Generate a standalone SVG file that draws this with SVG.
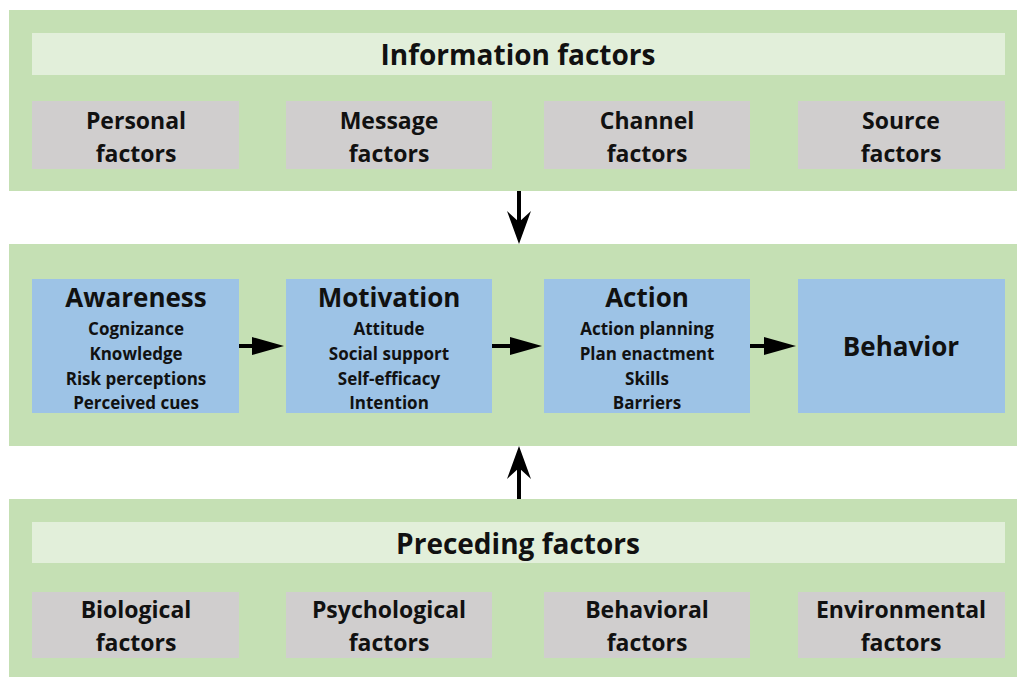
<svg xmlns="http://www.w3.org/2000/svg" width="1017" height="677" viewBox="0 0 1017 677">
<defs>
<style>
.panel{fill:#c5e0b4}
.hdr{fill:#e2efda}
.gray{fill:#d0cece}
.blue{fill:#9dc3e6}
text{font-family:"Open Sans",Lato,"Liberation Sans",sans-serif;font-weight:bold;fill:#111;text-anchor:middle}
.h1{font-size:28px}
.h2{font-size:26px}
.f{font-size:23px}
.s{font-size:17px}
.ln{stroke:#000;stroke-width:4;fill:none}
</style>
</defs>
<rect width="1017" height="677" fill="#fff"/>

<g id="info-panel">
<rect class="panel" x="9" y="10" width="1008" height="181"/>
<rect class="hdr" x="32" y="33" width="973" height="42"/>
<text class="h1" x="518" y="65">Information factors</text>
</g>
<g id="personal"><rect class="gray" x="32" y="101" width="207" height="68"/><text class="f" x="136" y="129">Personal</text><text class="f" x="136" y="162">factors</text></g>
<g id="message"><rect class="gray" x="286" y="101" width="206" height="68"/><text class="f" x="389" y="129">Message</text><text class="f" x="389" y="162">factors</text></g>
<g id="channel"><rect class="gray" x="544" y="101" width="206" height="68"/><text class="f" x="647" y="129">Channel</text><text class="f" x="647" y="162">factors</text></g>
<g id="source"><rect class="gray" x="798" y="101" width="207" height="68"/><text class="f" x="901" y="129">Source</text><text class="f" x="901" y="162">factors</text></g>

<g id="process-panel">
<rect class="panel" x="9" y="244" width="1008" height="202"/>
</g>
<g id="awareness"><rect class="blue" x="32" y="279" width="207" height="134"/>
<text class="h2" x="136" y="307">Awareness</text>
<text class="s" x="136" y="335">Cognizance</text><text class="s" x="136" y="360">Knowledge</text><text class="s" x="136" y="385">Risk perceptions</text><text class="s" x="136" y="409">Perceived cues</text></g>
<g id="motivation"><rect class="blue" x="286" y="279" width="206" height="134"/>
<text class="h2" x="389" y="307">Motivation</text>
<text class="s" x="389" y="335">Attitude</text><text class="s" x="389" y="360">Social support</text><text class="s" x="389" y="385">Self-efficacy</text><text class="s" x="389" y="409">Intention</text></g>
<g id="action"><rect class="blue" x="544" y="279" width="206" height="134"/>
<text class="h2" x="647" y="307">Action</text>
<text class="s" x="647" y="335">Action planning</text><text class="s" x="647" y="360">Plan enactment</text><text class="s" x="647" y="385">Skills</text><text class="s" x="647" y="409">Barriers</text></g>
<g id="behavior"><rect class="blue" x="798" y="279" width="207" height="134"/>
<text class="h2" x="901" y="356">Behavior</text></g>

<g id="preceding-panel">
<rect class="panel" x="9" y="499" width="1008" height="178"/>
<rect class="hdr" x="32" y="522" width="973" height="41"/>
<text class="h1" x="518" y="554">Preceding factors</text>
</g>
<g id="biological"><rect class="gray" x="32" y="592" width="207" height="66"/><text class="f" x="136" y="618">Biological</text><text class="f" x="136" y="651">factors</text></g>
<g id="psychological"><rect class="gray" x="286" y="592" width="206" height="66"/><text class="f" x="389" y="618">Psychological</text><text class="f" x="389" y="651">factors</text></g>
<g id="behavioral"><rect class="gray" x="544" y="592" width="206" height="66"/><text class="f" x="647" y="618">Behavioral</text><text class="f" x="647" y="651">factors</text></g>
<g id="environmental"><rect class="gray" x="798" y="592" width="207" height="66"/><text class="f" x="901" y="618">Environmental</text><text class="f" x="901" y="651">factors</text></g>

<g id="connectors">
<line class="ln" x1="239" y1="346" x2="256" y2="346"/><path d="M252,337 L284,346 L252,355 Z" fill="#000"/>
<line class="ln" x1="492" y1="346" x2="514" y2="346"/><path d="M510,337 L542,346 L510,355 Z" fill="#000"/>
<line class="ln" x1="750" y1="346" x2="768" y2="346"/><path d="M764,337 L796,346 L764,355 Z" fill="#000"/>
<line class="ln" x1="519" y1="191" x2="519" y2="230"/><path d="M507,211 L519,244 L531,211 L519,222 Z" fill="#000"/>
<line class="ln" x1="519" y1="499" x2="519" y2="460"/><path d="M507,479 L519,446 L531,479 L519,468 Z" fill="#000"/>
</g>
</svg>
